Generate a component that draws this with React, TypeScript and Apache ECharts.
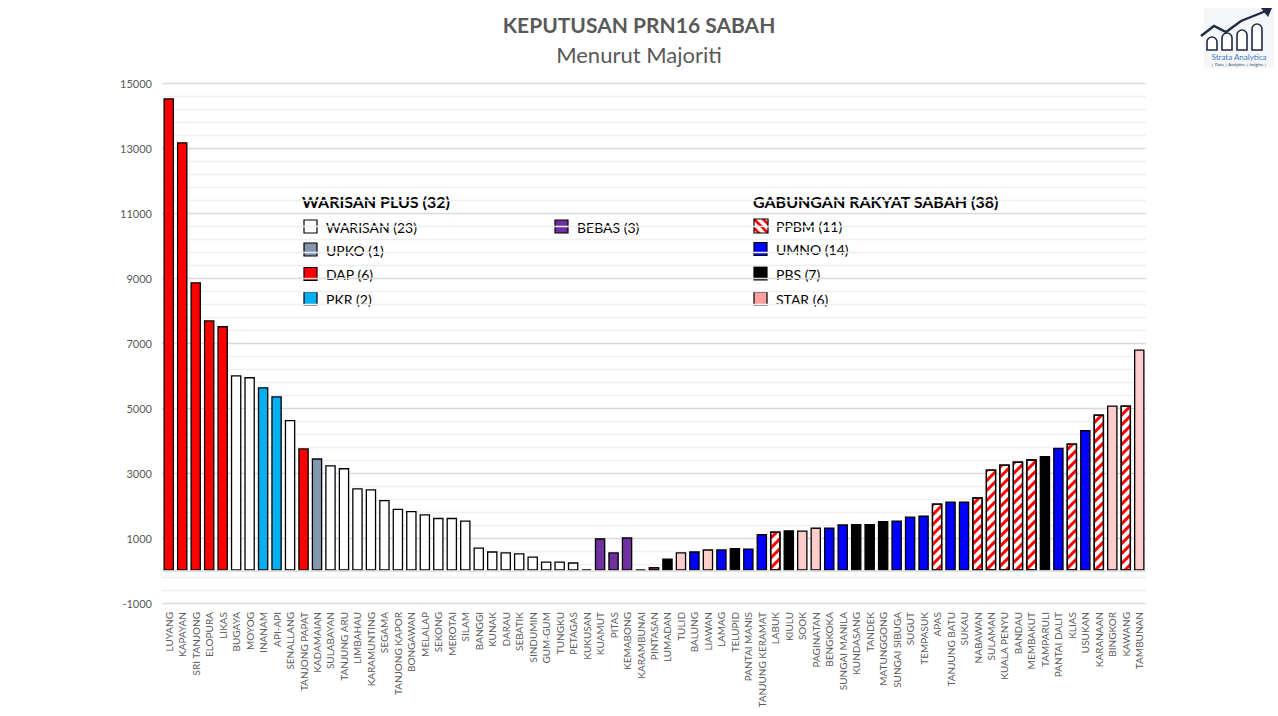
import { useEffect, useRef } from "react";
import * as echarts from "echarts";

const districts = [
  "LUYANG", "KAPAYAN", "SRI TANJONG", "ELOPURA", "LIKAS", "BUGAYA", "MOYOG", "INANAM", "API-API", "SENALLANG",
  "TANJONG PAPAT", "KADAMAIAN", "SULABAYAN", "TANJUNG ARU", "LIMBAHAU", "KARAMUNTING", "SEGAMA", "TANJONG KAPOR",
  "BONGAWAN", "MELALAP", "SEKONG", "MEROTAI", "SILAM", "BANGGI", "KUNAK", "DARAU", "SEBATIK", "SINDUMIN",
  "GUM-GUM", "TUNGKU", "PETAGAS", "KUKUSAN", "KUAMUT", "PITAS", "KEMABONG", "KARAMBUNAI", "PINTASAN", "LUMADAN",
  "TULID", "BALUNG", "LIAWAN", "LAMAG", "TELUPID", "PANTAI MANIS", "TANJUNG KERAMAT", "LABUK", "KIULU", "SOOK",
  "PAGINATAN", "BENGKOKA", "SUNGAI MANILA", "KUNDASANG", "TANDEK", "MATUNGGONG", "SUNGAI SIBUGA", "SUGUT",
  "TEMPASUK", "APAS", "TANJUNG BATU", "SUKAU", "NABAWAN", "SULAMAN", "KUALA PENYU", "BANDAU", "MEMBAKUT",
  "TAMPARULI", "PANTAI DALIT", "KLIAS", "USUKAN", "KARANAAN", "BINGKOR", "KAWANG", "TAMBUNAN",
];

const majorities = [
  14530, 13180, 8870, 7700, 7520, 6010, 5950, 5640, 5360, 4630,
  3760, 3450, 3240, 3150, 2530, 2500, 2170, 1900,
  1830, 1730, 1620, 1620, 1540, 710, 590, 560, 530, 430,
  280, 280, 250, 40, 990, 560, 1020, 30, 100, 370,
  560, 590, 650, 650, 690, 680, 1120, 1200, 1240, 1230,
  1320, 1320, 1420, 1430, 1430, 1520, 1540, 1660,
  1690, 2060, 2120, 2120, 2250, 3110, 3260, 3350, 3420,
  3520, 3780, 3910, 4320, 4800, 5080, 5080, 6800,
];

const winners = [
  "DAP", "DAP", "DAP", "DAP", "DAP", "WARISAN", "WARISAN", "PKR", "PKR", "WARISAN",
  "DAP", "UPKO", "WARISAN", "WARISAN", "WARISAN", "WARISAN", "WARISAN", "WARISAN",
  "WARISAN", "WARISAN", "WARISAN", "WARISAN", "WARISAN", "WARISAN", "WARISAN", "WARISAN", "WARISAN", "WARISAN",
  "WARISAN", "WARISAN", "WARISAN", "WARISAN", "BEBAS", "BEBAS", "BEBAS", "UMNO", "PPBM", "PBS",
  "STAR", "UMNO", "STAR", "UMNO", "PBS", "UMNO", "UMNO", "PPBM", "PBS", "STAR",
  "STAR", "UMNO", "UMNO", "PBS", "PBS", "PBS", "UMNO", "UMNO",
  "UMNO", "PPBM", "UMNO", "UMNO", "PPBM", "PPBM", "PPBM", "PPBM", "PPBM",
  "PBS", "UMNO", "PPBM", "UMNO", "PPBM", "STAR", "PPBM", "STAR",
];

const yTicks = { min: -1000, max: 15000, step: 2000 };

const warisanPlusTitle = "WARISAN PLUS (32)";
const warisanPlusItems = [
  { label: "WARISAN (23)", party: "WARISAN" },
  { label: "UPKO (1)", party: "UPKO" },
  { label: "DAP (6)", party: "DAP" },
  { label: "PKR (2)", party: "PKR" },
];
const independentItems = [{ label: "BEBAS (3)", party: "BEBAS" }];
const grsTitle = "GABUNGAN RAKYAT SABAH (38)";
const grsItems = [
  { label: "PPBM (11)", party: "PPBM" },
  { label: "UMNO (14)", party: "UMNO" },
  { label: "PBS (7)", party: "PBS" },
  { label: "STAR (6)", party: "STAR" },
];

const partyColors: Record<string, string> = {
  WARISAN: "#FFFFFF",
  UPKO: "#8497B0",
  DAP: "#FF0000",
  PKR: "#00B0F0",
  BEBAS: "#7030A0",
  PPBM: "#FFFFFF",
  UMNO: "#0000FF",
  PBS: "#000000",
  STAR: "#FFCCCC",
};
const legendColors: Record<string, string> = { ...partyColors, STAR: "#FF9F9F" };

const FONT = "Lato";

const stripeDecal = {
  symbol: "rect",
  symbolSize: 1,
  color: "#FF0000",
  dashArrayX: [1, 0],
  dashArrayY: [2.5, 3.5],
  rotation: -Math.PI / 4,
};

// clip a convex polygon with a half-plane f(p) >= 0
function clip(pts: number[][], f: (p: number[]) => number) {
  const out: number[][] = [];
  for (let i = 0; i < pts.length; i++) {
    const a = pts[i];
    const b = pts[(i + 1) % pts.length];
    const fa = f(a);
    const fb = f(b);
    if (fa >= 0) out.push(a);
    if (fa >= 0 !== fb >= 0) {
      const t = fa / (fa - fb);
      out.push([a[0] + t * (b[0] - a[0]), a[1] + t * (b[1] - a[1])]);
    }
  }
  return out;
}

function stripedIcon(x: number, y: number, s: number) {
  const square = [[0, 0], [s, 0], [s, s], [0, s]];
  const children: any[] = [{ type: "rect", shape: { x: 0, y: 0, width: s, height: s }, style: { fill: "#fff" } }];
  [-9, 0, 9].forEach((c) => {
    const h = 1.9;
    let p = clip(square, (q) => q[1] - q[0] - (c - h));
    p = clip(p, (q) => c + h - (q[1] - q[0]));
    if (p.length > 2) children.push({ type: "polygon", shape: { points: p }, style: { fill: "#FF0000" } });
  });
  children.push({
    type: "rect",
    shape: { x: 0, y: 0, width: s, height: s },
    style: { fill: "none", stroke: "#000", lineWidth: 1.2 },
  });
  return { type: "group", x, y, children };
}

function legendBlock(items: { label: string; party: string }[], x: number, ys: number[]) {
  const els: any[] = [];
  items.forEach((it, i) => {
    const y = ys[i];
    if (it.party === "PPBM") {
      els.push(stripedIcon(x, y - 7, 14));
    } else {
      els.push({
        type: "rect",
        shape: { x, y: y - 7, width: 13, height: 13 },
        style: { fill: legendColors[it.party], stroke: "#000", lineWidth: 1.2 },
      });
    }
    els.push({
      type: "text",
      x: x + 22,
      y,
      style: { text: it.label, font: `14px ${FONT}`, fill: "#000", verticalAlign: "middle" },
    });
  });
  return els;
}

function logo() {
  const bars = [
    [1207, 37],
    [1222, 33],
    [1237, 30],
    [1252, 24],
  ];
  return {
    type: "group",
    children: [
      { type: "rect", shape: { x: 1204, y: 8, width: 70, height: 60 }, style: { fill: "#F5F6F8" } },
      ...bars.map(([bx, top]) => ({
        type: "rect",
        shape: { x: bx, y: top, width: 10, height: 50 - top, r: [5, 5, 0, 0] },
        style: { fill: "#fff", stroke: "#1F2A44", lineWidth: 1.6 },
      })),
      {
        type: "polyline",
        shape: { points: [[1201, 36], [1214, 26], [1226, 32], [1241, 21], [1266, 11]] },
        style: { stroke: "#1F2A44", lineWidth: 2.4, fill: "none" },
      },
      {
        type: "polygon",
        shape: { points: [[1272, 8], [1261, 8], [1268, 17]] },
        style: { fill: "#1F2A44" },
      },
      {
        type: "text",
        x: 1239,
        y: 57,
        style: { text: "Strata Analytica", font: `8px ${FONT}`, fill: "#3D7CC9", align: "center", verticalAlign: "middle" },
      },
      {
        type: "text",
        x: 1239,
        y: 64,
        style: {
          text: "|  Data  |  Analytics  |  Insights  |",
          font: `4px ${FONT}`,
          fill: "#1F3864",
          align: "center",
          verticalAlign: "middle",
        },
      },
    ],
  };
}

function App() {
  const chartRef = useRef<HTMLDivElement>(null);

  useEffect(() => {
    document.body.style.margin = "0";
    const chart = echarts.init(chartRef.current, null, { renderer: "svg" });

    const data = majorities.map((v, i) => {
      const party = winners[i];
      const itemStyle: any = { color: partyColors[party], borderColor: "#000", borderWidth: 1.3 };
      if (party === "PPBM") itemStyle.decal = stripeDecal;
      return { value: v, itemStyle };
    });

    const option = {
      animation: false,
      backgroundColor: "#fff",
      title: [
        {
          text: "KEPUTUSAN PRN16 SABAH",
          left: "center",
          top: 9,
          textStyle: { fontFamily: FONT, fontSize: 21, fontWeight: "bold", color: "#595959" },
        },
        {
          text: "Menurut Majoriti",
          left: "center",
          top: 38,
          textStyle: { fontFamily: FONT, fontSize: 22, fontWeight: "normal", color: "#595959" },
        },
      ],
      grid: { left: 162, right: 132, top: 83, bottom: 113, outerBoundsMode: "none" },
      xAxis: {
        type: "category",
        data: districts,
        axisLine: { show: false, onZero: false },
        axisTick: { show: false },
        axisLabel: { interval: 0, rotate: 90, margin: 9, fontSize: 10, fontFamily: FONT, color: "#595959" },
      },
      yAxis: {
        type: "value",
        min: yTicks.min,
        max: yTicks.max,
        interval: yTicks.step,
        axisLine: { show: false },
        axisTick: { show: false },
        axisLabel: {
          fontSize: 11,
          fontFamily: FONT,
          color: "#595959",
          margin: 10,
          formatter: (v: number) => String(v),
        },
        splitLine: { lineStyle: { color: "#D9D9D9", width: 1.3 } },
        minorTick: { show: false, splitNumber: 5 },
        minorSplitLine: { show: true, lineStyle: { color: "#EFEFEF", width: 1.3 } },
      },
      series: [
        {
          type: "bar",
          data,
          barCategoryGap: "22%",
          markLine: {
            silent: true,
            symbol: ["none", "none"],
            label: { show: false },
            lineStyle: { color: "#D9D9D9", width: 1.6, type: "solid" },
            data: [{ yAxis: 0 }],
          },
        },
      ],
      graphic: [
        {
          type: "text",
          x: 302,
          y: 201,
          style: { text: warisanPlusTitle, font: `bold 16px ${FONT}`, fill: "#000", verticalAlign: "middle" },
        },
        ...legendBlock(warisanPlusItems, 304, [227, 250, 274.5, 299]),
        ...legendBlock(independentItems, 555, [227]),
        {
          type: "text",
          x: 753,
          y: 201,
          style: { text: grsTitle, font: `bold 16px ${FONT}`, fill: "#000", verticalAlign: "middle" },
        },
        ...legendBlock(grsItems, 754, [226, 249.5, 274, 299]),
        logo(),
      ],
    };

    chart.setOption(option);

    return () => {
      chart.dispose();
    };
  }, []);

  return <div ref={chartRef} style={{ width: "1278px", height: "716px" }} />;
}

export default App;
